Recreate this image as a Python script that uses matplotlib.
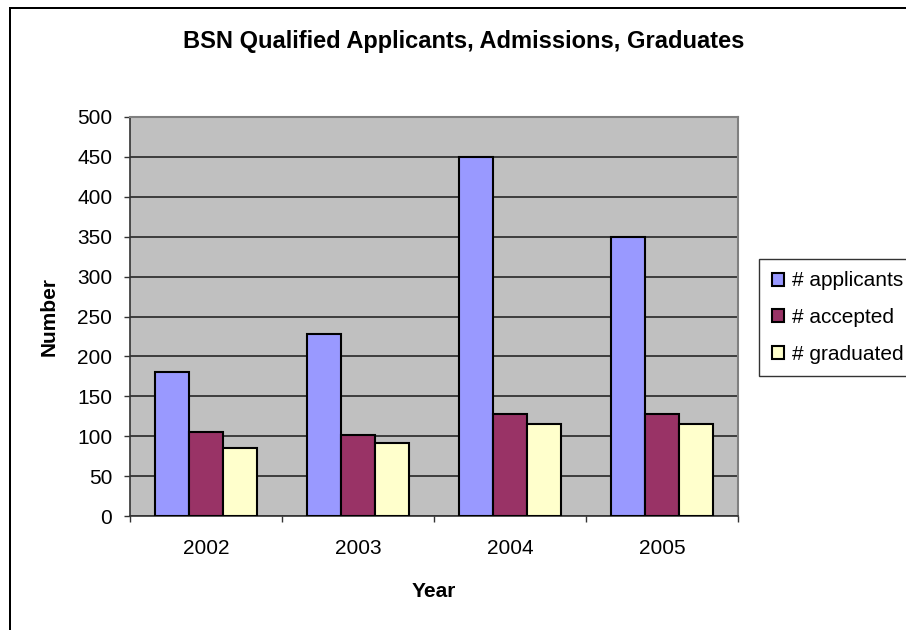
import numpy as np
import matplotlib.pyplot as plt
from matplotlib.lines import Line2D

years = ['2002', '2003', '2004', '2005']
applicants = [180, 228, 450, 350]
accepted = [105, 102, 128, 128]
graduated = [85, 92, 115, 115]

series = [
    ('# applicants', applicants, '#9999FF'),
    ('# accepted', accepted, '#993366'),
    ('# graduated', graduated, '#FFFFCC'),
]

plt.rcParams['font.family'] = ['Liberation Sans', 'DejaVu Sans']

W, H = 906, 630
PX = 72 / 100  # points per pixel at dpi 100
fig = plt.figure(figsize=(W / 100, H / 100), dpi=100)
fig.patch.set_facecolor('white')

# chart frame: only the left and top edges fall inside the image
fig.lines.append(Line2D([9.5 / W, 9.5 / W], [0, 1 - 7.5 / H], transform=fig.transFigure,
                        color='black', linewidth=2 * PX))
fig.lines.append(Line2D([9.5 / W, 1], [1 - 7.5 / H, 1 - 7.5 / H], transform=fig.transFigure,
                        color='black', linewidth=2 * PX))

left, right, top, bottom = 130, 738, 117, 516
ax = fig.add_axes([left / W, 1 - bottom / H, (right - left) / W, (bottom - top) / H])
ax.set_facecolor('#C0C0C0')

x = np.arange(len(years))
width = 0.2237
for i, (label, vals, color) in enumerate(series):
    ax.bar(x + (i - 1) * width, vals, width, color=color, edgecolor='black',
           linewidth=1.5, label=label, zorder=3)

ax.set_xlim(-0.5, len(years) - 0.5)
ax.set_ylim(0, 500)
ax.set_yticks(range(0, 501, 50))
ax.yaxis.grid(True, color='#1a1a1a', linewidth=1.1, zorder=1)
ax.set_axisbelow(True)

ax.set_xticks(x)
ax.set_xticklabels(years)
ax.set_xticks(np.arange(-0.5, len(years)), minor=True)
ax.tick_params(axis='x', which='major', length=0, pad=16.5, labelsize=15)
ax.tick_params(axis='x', which='minor', length=6 * PX, width=1, color='#333333')
ax.tick_params(axis='y', length=6 * PX, width=1, color='#333333', labelsize=15,
               pad=8.4)

for side in ('top', 'right'):
    ax.spines[side].set_color('#808080')
    ax.spines[side].set_linewidth(1.5)
for side in ('left', 'bottom'):
    ax.spines[side].set_color('#333333')
    ax.spines[side].set_linewidth(1.2)

fig.text(49 / W, 1 - 317 / H, 'Number', rotation=90, ha='center', va='center',
         fontsize=15, fontweight='bold')
fig.text(434 / W, 1 - 597 / H, 'Year', ha='center', va='baseline',
         fontsize=15, fontweight='bold')

fig.text(464 / W, 1 - 48 / H, 'BSN Qualified Applicants, Admissions, Graduates',
         ha='center', va='baseline', fontsize=17, fontweight='bold')

leg = fig.legend(loc='upper left', bbox_to_anchor=(759 / W, 1 - 259 / H),
                 fontsize=15, frameon=True, fancybox=False, borderpad=0.6,
                 handlelength=0.58, handleheight=0.58, handletextpad=0.38,
                 labelspacing=0.85, borderaxespad=0)
leg.get_frame().set_edgecolor('black')
leg.get_frame().set_linewidth(1)
for h in leg.legend_handles:
    h.set_linewidth(1.5)

fig.savefig('out.png', dpi=100)
